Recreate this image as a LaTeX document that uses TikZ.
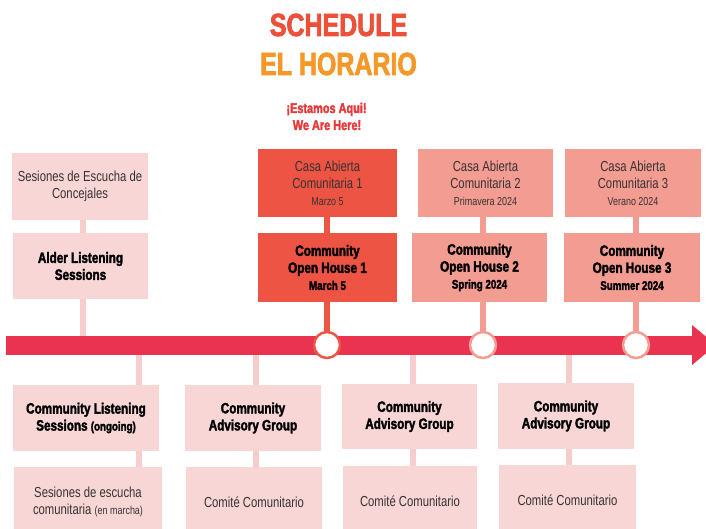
\documentclass[tikz,border=0pt]{standalone}
\usepackage{fontspec}
\usetikzlibrary{backgrounds}
\setmainfont{Liberation Sans}[FakeStretch=0.78,BoldFeatures={FakeBold=2.2}]
\definecolor{barred}{RGB}{233,51,80}
\definecolor{pinkbox}{RGB}{248,214,214}
\definecolor{pinkline}{RGB}{246,204,204}
\definecolor{salmon}{RGB}{243,156,146}
\definecolor{redorange}{RGB}{238,84,67}
\definecolor{titlered}{RGB}{236,80,56}
\definecolor{titleorange}{RGB}{245,152,40}
\definecolor{hereRed}{RGB}{232,56,58}
\definecolor{txtgray}{RGB}{55,50,50}
\newcommand{\smallreg}{\fontsize{11.5}{12}\selectfont}
\newcommand{\smallbold}{\fontsize{12.5}{12}\selectfont}
\begin{document}
\begin{tikzpicture}[x=1pt,y=-1pt,
  card/.style={inner sep=0pt,align=center,anchor=center},
  regfont/.style={font=\fontsize{14.5}{17}\selectfont,text=txtgray},
  boldfont/.style={font=\fontsize{15}{17}\selectfont\bfseries,text=black},
  lightcard/.style={card,fill=pinkbox},
  redcard/.style={card,fill=redorange},
  salmoncard/.style={card,fill=salmon},
  conn/.style={line width=5.5pt},
  ring/.style={circle,fill=white,line width=2.5pt,minimum size=26pt,inner sep=0pt}
]
\useasboundingbox (0,0) rectangle (706,529);
\clip (0,0) rectangle (706,529);

% title
\node[anchor=base,font=\fontsize{32}{34}\selectfont\bfseries,text=titlered] (t1) at (338.5,36) {SCHEDULE};
\node[anchor=base,font=\fontsize{32}{34}\selectfont\bfseries,text=titleorange] (t2) at (338.5,75) {EL HORARIO};
\node[anchor=base,font=\fontsize{14}{15}\selectfont\bfseries,text=hereRed] (h1) at (326.5,113) {¡Estamos Aqui!};
\node[anchor=base,font=\fontsize{14}{15}\selectfont\bfseries,text=hereRed] (h2) at (327,130) {We Are Here!};

% timeline anchor points
\coordinate (pa) at (83,345);
\coordinate (pe) at (139,345);
\coordinate (pf) at (256,345);
\coordinate (pg) at (413,345);
\coordinate (ph) at (569,345);
\coordinate (barstart) at (6,345);
\coordinate (barend) at (692,345);

% boxes (top)
\node[lightcard,regfont,minimum width=136pt,minimum height=67pt] (A1) at (80,186.5)
  {Sesiones de Escucha de\\Concejales};
\node[lightcard,boldfont,minimum width=135pt,minimum height=66pt] (A2) at (80.5,266)
  {Alder Listening\\Sessions};
\node[redcard,regfont,minimum width=139pt,minimum height=68pt] (B1) at (327.5,183)
  {Casa Abierta\\Comunitaria 1\\{\smallreg Marzo 5}};
\node[redcard,boldfont,minimum width=139pt,minimum height=69pt] (B2) at (327.5,267.5)
  {Community\\Open House 1\\{\smallbold March 5}};
\node[salmoncard,regfont,minimum width=135pt,minimum height=68pt] (C1) at (485.5,183)
  {Casa Abierta\\Comunitaria 2\\{\smallreg Primavera 2024}};
\node[salmoncard,boldfont,minimum width=135pt,minimum height=69pt] (C2) at (479.5,267.5)
  {Community\\Open House 2\\{\smallbold Spring 2024}};
\node[salmoncard,regfont,minimum width=136pt,minimum height=68pt] (D1) at (633,183)
  {Casa Abierta\\Comunitaria 3\\{\smallreg Verano 2024}};
\node[salmoncard,boldfont,minimum width=136pt,minimum height=69pt] (D2) at (632,267.5)
  {Community\\Open House 3\\{\smallbold Summer 2024}};

% boxes (bottom)
\node[lightcard,boldfont,minimum width=146pt,minimum height=66pt] (E1) at (86,418)
  {Community Listening\\Sessions {\smallbold (ongoing)}};
\node[lightcard,regfont,minimum width=148pt,minimum height=70pt] (E2) at (88,502)
  {Sesiones de escucha\\comunitaria {\smallreg (en marcha)}};
\node[lightcard,boldfont,minimum width=136pt,minimum height=66pt] (F1) at (253,418)
  {Community\\Advisory Group};
\node[lightcard,regfont,minimum width=136pt,minimum height=70pt] (F2) at (254,502)
  {Comité Comunitario};
\node[lightcard,boldfont,minimum width=135pt,minimum height=65pt] (G1) at (409.5,416.5)
  {Community\\Advisory Group};
\node[lightcard,regfont,minimum width=134pt,minimum height=70pt] (G2) at (410,501)
  {Comité Comunitario};
\node[lightcard,boldfont,minimum width=136pt,minimum height=66pt] (H1) at (566,416)
  {Community\\Advisory Group};
\node[lightcard,regfont,minimum width=137pt,minimum height=70pt] (H2) at (567.5,500)
  {Comité Comunitario};

% timeline circles
\node[ring,draw=redorange] (cb) at (327,345) {};
\node[ring,draw=salmon] (cc) at (483,345) {};
\node[ring,draw=salmon] (cd) at (636,345) {};

\begin{scope}[on background layer]
  \fill[white] (0,0) rectangle (706,529);
  % connectors
  \draw[conn,pinkline] (A1.center -| pa) -- (pa);
  \draw[conn,redorange] (B1.center -| cb) -- (cb);
  \draw[conn,salmon] (C1.center -| cc) -- (cc);
  \draw[conn,salmon] (D1.center -| cd) -- (cd);
  \draw[conn,pinkline] (pe) -- (E2.center -| pe);
  \draw[conn,pinkline] (pf) -- (F2.center -| pf);
  \draw[conn,pinkline] (pg) -- (G2.center -| pg);
  \draw[conn,pinkline] (ph) -- (H2.center -| ph);
  % bar and arrow head
  \fill[barred] ([yshift=9.5pt]barstart) rectangle ([yshift=-9.5pt]barend);
  \fill[barred] ([yshift=20pt]barend) -- ([xshift=24pt]barend) -- ([yshift=-20pt]barend) -- cycle;
\end{scope}
\end{tikzpicture}
\end{document}
